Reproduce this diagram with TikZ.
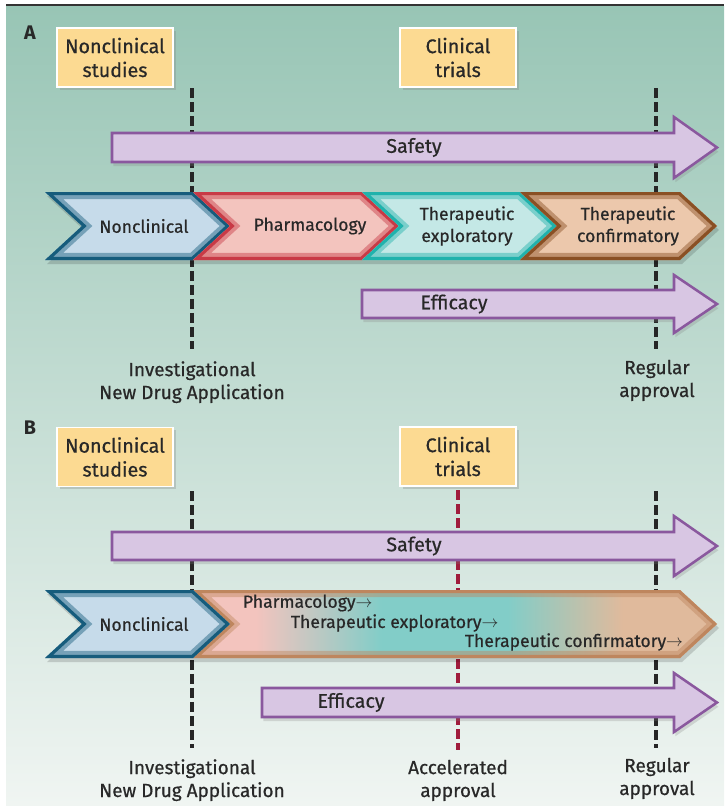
\documentclass[tikz,border=0pt]{standalone}
\usepackage{fontspec}
\setmainfont{Fira Sans}[UprightFeatures={FakeBold=0.6}]
\usetikzlibrary{shadows}

\definecolor{txt}{RGB}{40,40,40}
\definecolor{bgtop}{RGB}{152,197,181}
\definecolor{bgmid}{RGB}{186,215,204}
\definecolor{bgbot}{RGB}{240,245,242}
\definecolor{boxfill}{RGB}{252,218,146}
\definecolor{armfill}{RGB}{216,198,227}
\definecolor{armline}{RGB}{138,88,158}
\definecolor{ncfill}{RGB}{198,219,234}
\definecolor{ncline}{RGB}{22,92,124}
\definecolor{phfill}{RGB}{243,196,190}
\definecolor{phline}{RGB}{200,58,70}
\definecolor{exfill}{RGB}{196,232,230}
\definecolor{exline}{RGB}{32,178,172}
\definecolor{cofill}{RGB}{236,200,172}
\definecolor{coline}{RGB}{138,80,36}
\definecolor{bandcyan}{RGB}{130,205,200}
\definecolor{bandtan}{RGB}{224,186,156}
\definecolor{bandline}{RGB}{190,134,94}
\definecolor{accel}{RGB}{160,28,60}

\pgfdeclarehorizontalshading{bandshade}{100bp}{color(0bp)=(phfill); color(31bp)=(phfill); color(43bp)=(bandcyan); color(55bp)=(bandcyan); color(66bp)=(bandtan); color(100bp)=(bandtan)}

% chevron with a glowing rim: path, fill options, rim colour
\newcommand{\glowfill}[3]{%
  \begin{scope}
    \clip #1;
    \path[#2] #1;
    \draw[line width=10pt, #3, opacity=0.45] #1;
    \draw[line width=4.5pt, #3] #1;
  \end{scope}}

\tikzset{
  studybox/.style={draw=white, line width=1.2pt, fill=boxfill, align=center,
    minimum width=2.9cm, minimum height=1.48cm,
    drop shadow={opacity=0.3, shadow xshift=2pt, shadow yshift=-2pt}},
  arm/.style={draw=armline, line width=1.8pt, fill=armfill,
    drop shadow={opacity=0.25, shadow xshift=1pt, shadow yshift=-3pt}},
  milestone/.style={dash pattern=on 7pt off 3pt, line width=2.6pt, black!85},
  milestonelabel/.style={align=center, anchor=base, font=\fontsize{13.5}{16.3}\selectfont},
  stagetext/.style={align=center, font=\fontsize{12.5}{15.6}\selectfont},
  panel/.style={font=\fontsize{14}{17}\selectfont\bfseries}
}

\begin{document}
\begin{tikzpicture}[x=0.025cm, y=-0.025cm, font=\fontsize{14}{17}\selectfont, text=txt]
  \useasboundingbox (0,0) rectangle (724,809);
  \shade[top color=bgtop, middle color=bgmid, bottom color=bgbot] (6,6) rectangle (724,805);
  \draw[line width=1.6pt, black!80] (6,5) -- (724,5);

  % panel A
  \node[panel] (labA) at (30,33) {A};
  \node[studybox] (ncsA) at (115,57.5) {Nonclinical\\studies};
  \node[studybox] (ctA) at (458,57.5) {Clinical\\trials};

  \coordinate (indtopA) at (192,88);
  \coordinate (indbotA) at (192,349);
  \coordinate (regtopA) at (656,88);
  \coordinate (regbotA) at (656,349);
  \draw[milestone] (indtopA) -- (indbotA);
  \draw[milestone] (regtopA) -- (regbotA);

  \draw[arm] (112,133) -- (674,133) -- (674,117) -- (717,147.5) -- (674,178) -- (674,162) -- (112,162) -- cycle;
  \node (safA) at (414,147.5) {Safety};

  \fill[black, opacity=0.15] (47,196) -- (682,196) -- (719,230) -- (682,264) -- (47,264) -- (84,230) -- cycle;
  \glowfill{(45,192) -- (193,192) -- (230,226) -- (193,260) -- (45,260) -- (82,226) -- cycle}{fill=ncfill}{ncline}
  \glowfill{(193,192) -- (362,192) -- (399,226) -- (362,260) -- (193,260) -- (230,226) -- cycle}{fill=phfill}{phline}
  \glowfill{(362,192) -- (520,192) -- (557,226) -- (520,260) -- (362,260) -- (399,226) -- cycle}{fill=exfill}{exline}
  \glowfill{(520,192) -- (680,192) -- (717,226) -- (680,260) -- (520,260) -- (557,226) -- cycle}{fill=cofill}{coline}
  \node[stagetext] (ncA) at (144,226) {Nonclinical};
  \node[stagetext] (phA) at (310,226) {Pharmacology};
  \node[stagetext] (exA) at (467,226) {Therapeutic\\exploratory};
  \node[stagetext] (coA) at (628,226) {Therapeutic\\confirmatory};

  \draw[arm] (362,290) -- (674,290) -- (674,275) -- (717,304) -- (674,333) -- (674,318) -- (362,318) -- cycle;
  \node (effA) at (454,304) {Efficacy};

  \node[milestonelabel] (indA) at (192,399) {Investigational\\New Drug Application};
  \node[milestonelabel] (regA) at (657,397) {Regular\\approval};

  % panel B
  \node[panel] (labB) at (30,428) {B};
  \node[studybox] (ncsB) at (115,457) {Nonclinical\\studies};
  \node[studybox] (ctB) at (458,456.5) {Clinical\\trials};

  \coordinate (indtopB) at (192,491);
  \coordinate (indbotB) at (192,748);
  \coordinate (acctopB) at (458,490);
  \coordinate (accbotB) at (458,750);
  \coordinate (regtopB) at (656,491);
  \coordinate (regbotB) at (656,748);
  \draw[milestone] (indtopB) -- (indbotB);
  \draw[milestone, accel] (acctopB) -- (accbotB);
  \draw[milestone] (regtopB) -- (regbotB);

  \draw[arm] (112,532) -- (674,532) -- (674,516) -- (717,546) -- (674,576) -- (674,560) -- (112,560) -- cycle;
  \node (safB) at (414,546) {Safety};

  \fill[black, opacity=0.15] (47,594) -- (682,594) -- (719,628) -- (682,662) -- (47,662) -- (84,628) -- cycle;
  \glowfill{(193,590) -- (680,590) -- (717,624) -- (680,658) -- (193,658) -- (230,624) -- cycle}{shade, shading=bandshade}{bandline}
  \glowfill{(45,590) -- (193,590) -- (230,624) -- (193,658) -- (45,658) -- (82,624) -- cycle}{fill=ncfill}{ncline}
  \node[stagetext] (ncB) at (144,624) {Nonclinical};
  \node[stagetext, anchor=west] (phB) at (238,603) {Pharmacology$\rightarrow$};
  \node[stagetext, anchor=west] (exB) at (286,623) {Therapeutic exploratory$\rightarrow$};
  \node[stagetext, anchor=east] (coB) at (688,642) {Therapeutic confirmatory$\rightarrow$};

  \draw[arm] (262,688) -- (674,688) -- (674,673) -- (717,702.5) -- (674,732) -- (674,717) -- (262,717) -- cycle;
  \node (effB) at (351,702.5) {Efficacy};

  \node[milestonelabel] (indB) at (192,797) {Investigational\\New Drug Application};
  \node[milestonelabel] (accB) at (458,797) {Accelerated\\approval};
  \node[milestonelabel] (regB) at (657,795) {Regular\\approval};
\end{tikzpicture}
\end{document}
